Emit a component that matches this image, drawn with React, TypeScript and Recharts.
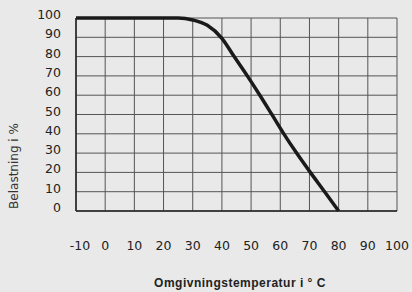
import React from "react";
import { LineChart, Line, XAxis, YAxis, CartesianGrid } from "recharts";

const temperatures = [-10, 25, 30, 35, 40, 44.2, 48.7, 53, 57, 61, 65.6, 70.3, 75.2, 80];
const loadPercent = [100, 100, 99, 96.2, 89.5, 80, 70, 60, 50.3, 40.5, 30, 20, 10, 0];
const xTicks = [-10, 0, 10, 20, 30, 40, 50, 60, 70, 80, 90, 100];
const yTicks = [0, 10, 20, 30, 40, 50, 60, 70, 80, 90, 100];

const data = temperatures.map((t, i) => ({ t, load: loadPercent[i] }));

const tickFont = "'DejaVu Sans', sans-serif";

const XTick = (props: any) => {
  const { x, y, payload } = props;
  return (
    <text x={x + (payload.value === -10 ? 4 : 0)} y={y + 31} textAnchor="middle" fontFamily={tickFont} fontSize={12.5} fill="#222">
      {payload.value}
    </text>
  );
};

const YTick = (props: any) => {
  const { x, y, payload } = props;
  return (
    <text x={x} y={y + 1} textAnchor="end" fontFamily={tickFont} fontSize={12.5} fill="#222">
      {payload.value}
    </text>
  );
};

export default function App() {
  return (
    <div style={{ position: "absolute", left: 0, top: 0, width: 412, height: 292, background: "#e8e9e8" }}>
      <LineChart width={412} height={292} data={data} margin={{ top: 18, right: 15, bottom: 0, left: 0 }}>
        <CartesianGrid stroke="#555" strokeWidth={1} vertical horizontal />
        <XAxis
          dataKey="t"
          type="number"
          domain={[-10, 100]}
          ticks={xTicks}
          interval={0}
          height={81}
          axisLine={{ stroke: "#222", strokeWidth: 1.5 }}
          tickLine={false}
          tick={<XTick />}
        />
        <YAxis
          type="number"
          domain={[0, 100]}
          ticks={yTicks}
          interval={0}
          width={76}
          axisLine={{ stroke: "#222", strokeWidth: 1.5 }}
          tickLine={false}
          tickMargin={9}
          tick={<YTick />}
        />
        <Line
          dataKey="load"
          type="monotone"
          stroke="#1a1a1a"
          strokeWidth={3.5}
          dot={false}
          isAnimationActive={false}
        />
        <text x={240} y={287} textAnchor="middle" fontFamily="'Liberation Sans', Arial, sans-serif" fontWeight="bold" fontSize={12} letterSpacing={0.5} fill="#222">
          Omgivningstemperatur i ° C
        </text>
        <text x={18} y={166} textAnchor="middle" fontFamily={tickFont} fontSize={12} fill="#333" transform="rotate(-90 18 166)">
          Belastning i %
        </text>
      </LineChart>
    </div>
  );
}
